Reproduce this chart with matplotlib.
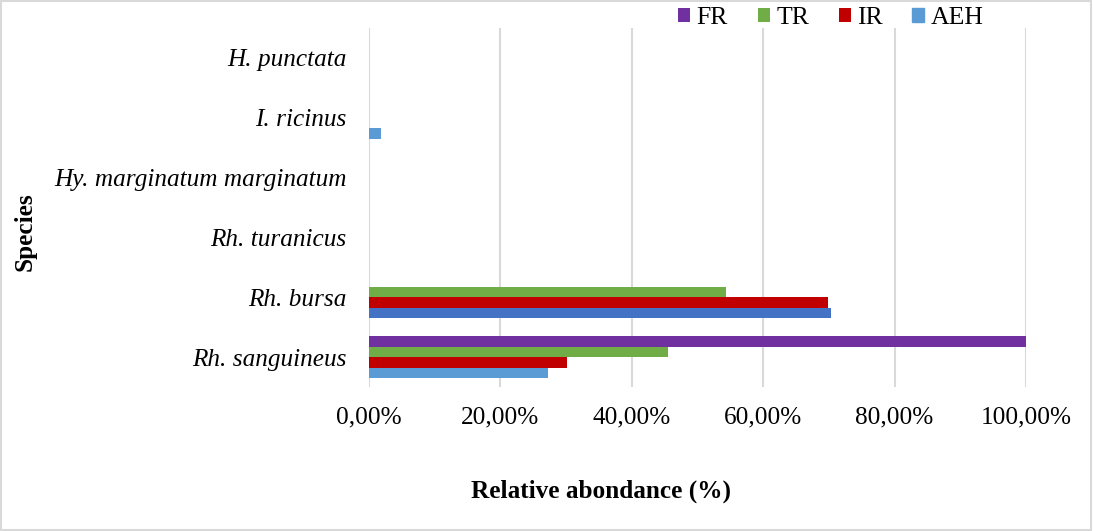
import matplotlib
matplotlib.use("Agg")
import matplotlib.pyplot as plt
import numpy as np

species = ["Rh. sanguineus", "Rh. bursa", "Rh. turanicus",
           "Hy. marginatum marginatum", "I. ricinus", "H. punctata"]
aeh = [27.2, 70.3, 0.0, 0.0, 1.9, 0.0]
ir = [30.1, 69.8, 0.0, 0.0, 0.0, 0.0]
tr = [45.5, 54.4, 0.0, 0.0, 0.0, 0.0]
fr = [100.0, 0.0, 0.0, 0.0, 0.0, 0.0]
xticks = [0, 20, 40, 60, 80, 100]

plt.rcParams["font.family"] = ["Liberation Serif", "DejaVu Serif"]

fig = plt.figure(figsize=(10.93, 5.31), dpi=100)
ax = fig.add_axes([369 / 1093, 1 - 387 / 531, 657 / 1093, 359 / 531])

y = np.arange(len(species))
h = 0.175
aeh_colors = ["#5B9BD5"] * len(species)
aeh_colors[1] = "#4472C4"
ax.barh(y - 1.5 * h, aeh, h, color=aeh_colors, label="AEH", zorder=3)
ax.barh(y - 0.5 * h, ir, h, color="#C00000", label="IR", zorder=3)
ax.barh(y + 0.5 * h, tr, h, color="#70AD47", label="TR", zorder=3)
ax.barh(y + 1.5 * h, fr, h, color="#7030A0", label="FR", zorder=3)

ax.set_xlim(0, 100)
ax.set_ylim(-0.5, len(species) - 0.5)
ax.set_xticks(xticks)
ax.set_xticklabels([f"{v},00%" for v in xticks], fontsize=18.2)
ax.set_yticks(y)
ax.set_yticklabels(species, fontsize=18.2, style="italic")
ax.tick_params(length=0)
ax.tick_params(axis="y", pad=16)
ax.tick_params(axis="x", pad=14)
ax.grid(axis="x", color="#D9D9D9", linewidth=1.5, zorder=0)
for s in ax.spines.values():
    s.set_visible(False)

handles, labels = ax.get_legend_handles_labels()
order = [3, 2, 1, 0]
leg = fig.legend([handles[i] for i in order], [labels[i] for i in order],
                 loc="center", bbox_to_anchor=(831 / 1093, 1 - 18 / 531),
                 ncol=4, frameon=False, fontsize=18.5, handlelength=0.47,
                 handleheight=0.47, handletextpad=0.25, columnspacing=1.15)
leg.legend_handles[3].set_color("#5B9BD5")

fig.text(601 / 1093, 1 - 491 / 531, "Relative abondance (%)", fontsize=18.2,
         fontweight="bold", ha="center", va="center")
fig.text(25 / 1093, 1 - 232 / 531, "Species", fontsize=18.2, fontweight="bold",
         ha="center", va="center", rotation=90)

fig.patches.append(plt.Rectangle((0.001, 0.002), 0.997, 0.996, transform=fig.transFigure,
                                 fill=False, edgecolor="#D9D9D9", linewidth=1.5))

fig.savefig("out.png", dpi=100)
